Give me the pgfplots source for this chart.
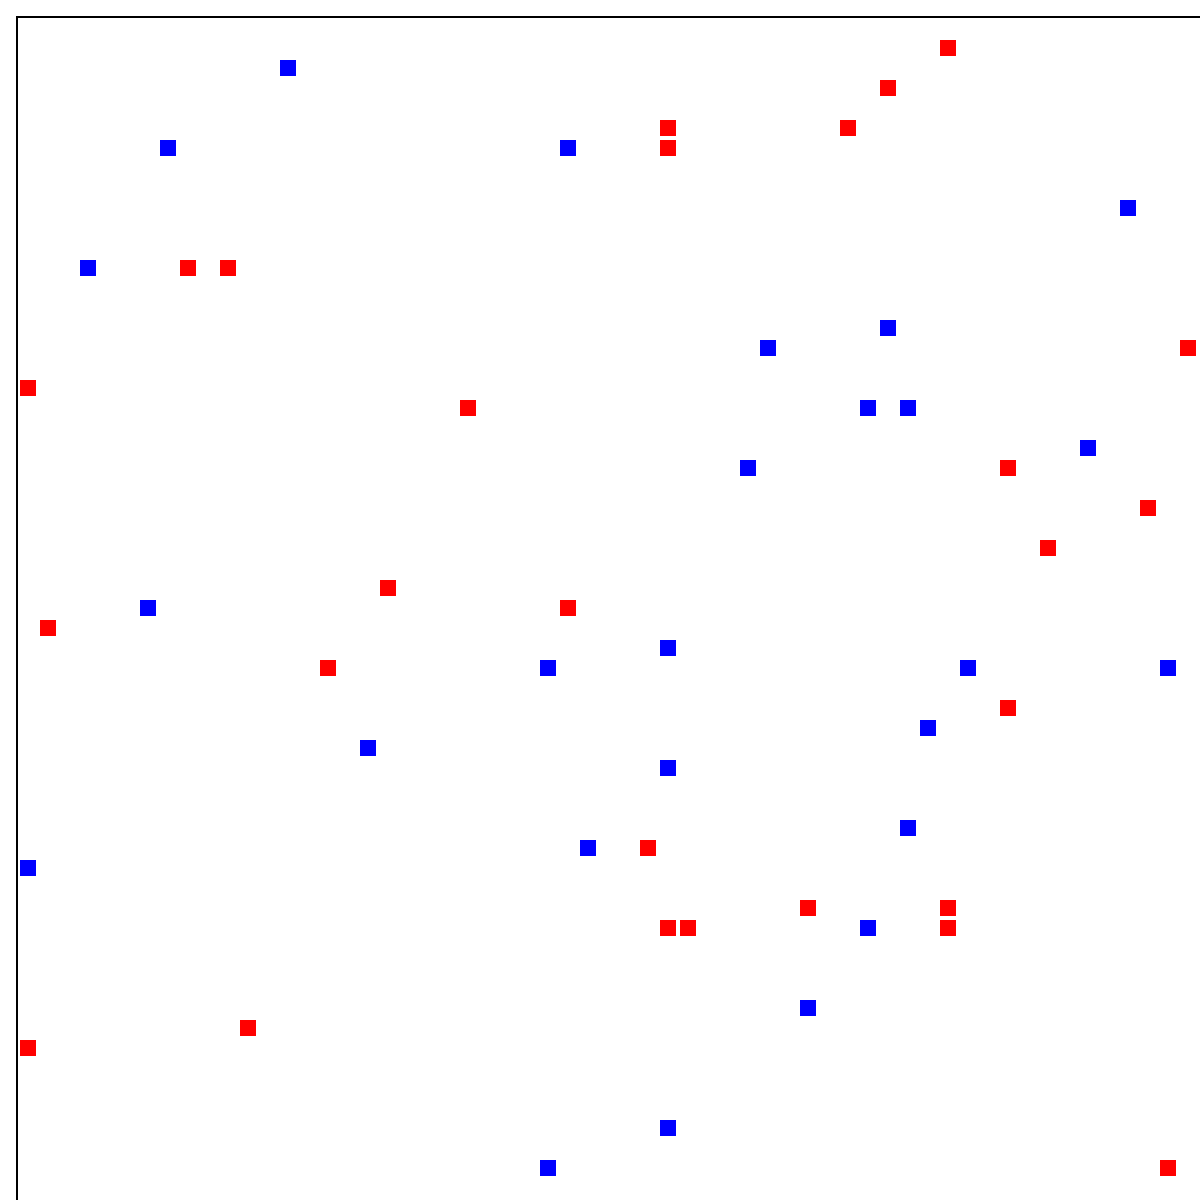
\documentclass[border=0pt]{standalone}
\usepackage{pgfplots}
\pgfplotsset{compat=1.18}
\definecolor{pblue}{RGB}{0,0,255}
\definecolor{pred}{RGB}{255,0,0}
% grid cell = 20px = 10pt; cell i has its centre at 8+20i px
\pgfplotstableread{
i j
14 3
8 7
28 7
56 10
4 13
44 16
38 17
43 20
45 20
54 22
37 23
7 30
33 32
27 33
48 33
58 33
46 36
18 37
33 38
45 41
29 42
1 43
43 46
40 50
33 56
27 58
}\bluepts
\pgfplotstableread{
i j
47 2
44 4
33 6
42 6
33 7
9 13
11 13
59 17
1 19
23 20
50 23
57 25
52 27
19 29
28 30
2 31
16 33
50 35
32 42
40 45
47 45
33 46
34 46
47 46
12 51
1 52
58 58
}\redpts
\begin{document}
\begin{tikzpicture}
\clip (0,0) rectangle (600pt,600pt);
\begin{axis}[
    at={(8.375pt,591.625pt)}, anchor=north west,
    scale only axis,
    width=610pt, height=610pt,
    xmin=0.4375, xmax=61.4375,
    ymin=0.4375, ymax=61.4375,
    y dir=reverse,
    ticks=none,
    axis line style={line width=0.75pt, black},
    clip=false,
]
\addplot[color=pblue, only marks, mark=square*, mark size=3.8pt,
    mark options={line width=0.4pt}] table[x=i, y=j] {\bluepts};
\addplot[color=pred, only marks, mark=square*, mark size=3.8pt,
    mark options={line width=0.4pt}] table[x=i, y=j] {\redpts};
\end{axis}
\end{tikzpicture}
\end{document}
